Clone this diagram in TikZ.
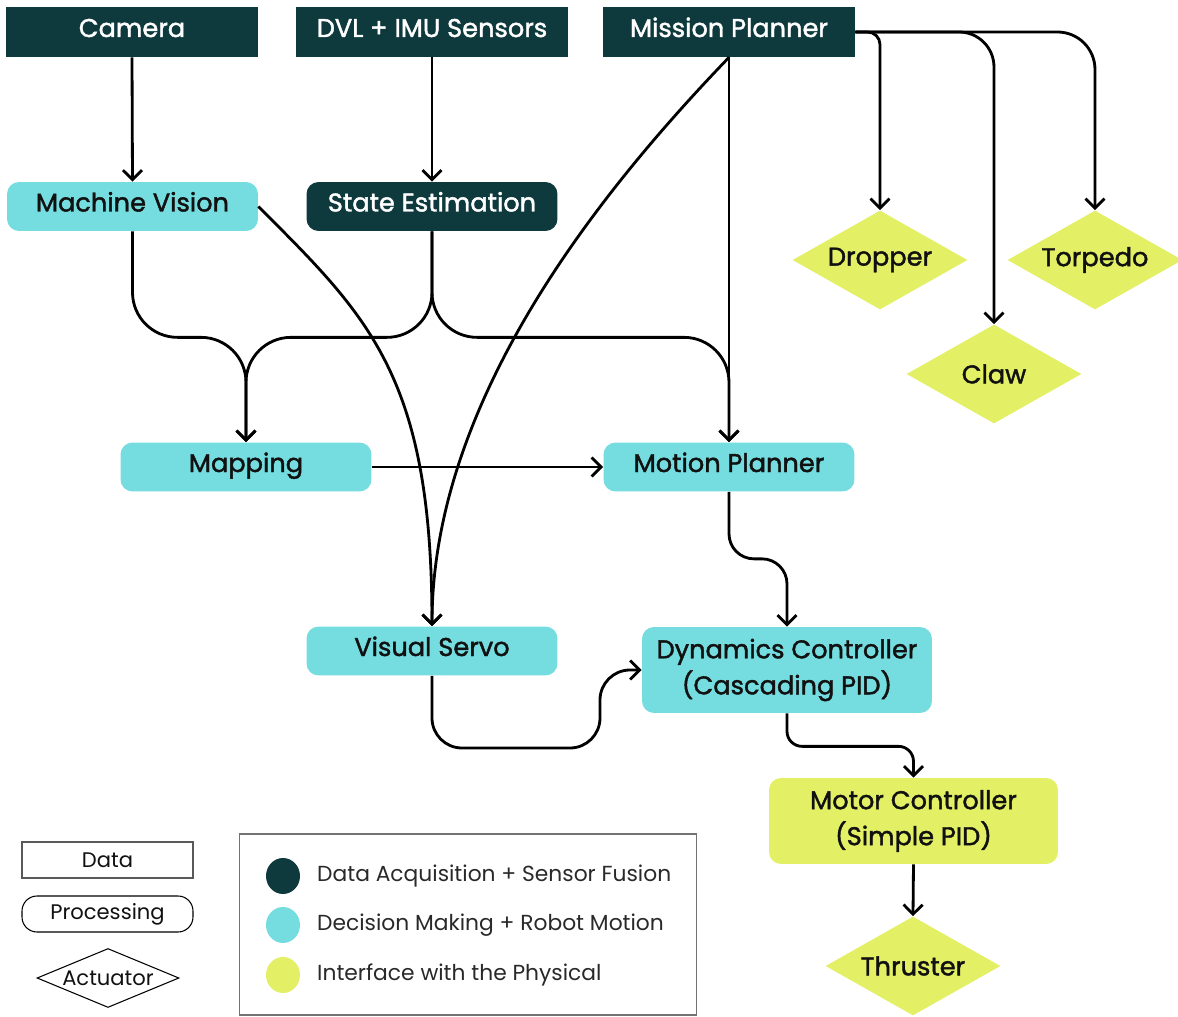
\documentclass[tikz,border=0pt]{standalone}
\usepackage{fontspec}
\setmainfont{Poppins}
\newfontfamily\boxfont[FakeBold=1.6]{Poppins}
\usetikzlibrary{arrows.meta,shapes.geometric}
\definecolor{darkteal}{HTML}{0E393D}
\definecolor{aqua}{HTML}{75DDE0}
\definecolor{lime}{HTML}{E3EF64}
\definecolor{ink}{HTML}{111111}

\begin{document}
\begin{tikzpicture}[x=0.02cm,y=-0.02cm,
  box/.style={rectangle, minimum width=5.02cm, minimum height=0.98cm, inner sep=0pt,
    align=center, font=\boxfont\fontsize{14.6}{20.5}\selectfont},
  oneline/.style={text height=0.4cm, text depth=0.2cm},
  datanode/.style={box, oneline, fill=darkteal, text=white},
  procdark/.style={box, oneline, fill=darkteal, text=white, rounded corners=0.24cm},
  procaqua/.style={box, fill=aqua, text=ink, rounded corners=0.24cm},
  proclime/.style={box, fill=lime, text=ink, rounded corners=0.24cm},
  actnode/.style={diamond, aspect=1.77, fill=lime, text=ink, inner sep=0pt, minimum width=3.5cm,
    minimum height=1.98cm, font=\boxfont\fontsize{14.6}{16}\selectfont},
  link/.style={line width=1.6pt, draw=black, -{Straight Barb[length=1.9mm,width=3.8mm,line width=1.6pt]}},
  legtext/.style={anchor=west, text=ink!90, font=\fontsize{12.4}{14}\selectfont},
  keytext/.style={text=ink, font=\fontsize{12}{14}\selectfont},
]
\useasboundingbox (0,0) rectangle (1178,1017);

% ---- sources (data) ----
\node[datanode, minimum width=5.04cm, minimum height=1cm] (cam) at (132,32) {Camera};
\node[datanode, minimum width=5.44cm, minimum height=1cm] (dvl) at (432,32) {DVL + IMU Sensors};
\node[datanode, minimum width=5.04cm, minimum height=1cm] (mp) at (729,32) {Mission Planner};

% ---- processing ----
\node[procaqua, oneline] (mv) at (132.5,206.5) {Machine Vision};
\node[procdark] (se) at (432,206.5) {State Estimation};
\node[procaqua, oneline] (map) at (246,467) {Mapping};
\node[procaqua, oneline] (mop) at (729,467) {Motion Planner};
\node[procaqua, oneline] (vs) at (432,651) {Visual Servo};
\node[procaqua, minimum width=5.8cm, minimum height=1.72cm] (dc) at (787,670)
  {Dynamics Controller\\(Cascading PID)};
\node[proclime, minimum width=5.78cm, minimum height=1.72cm] (mc) at (913.5,821)
  {Motor Controller\\(Simple PID)};

% ---- actuators ----
\node[actnode] (drop) at (880,260) {Dropper};
\node[actnode] (torp) at (1095,260) {Torpedo};
\node[actnode] (claw) at (994,374) {Claw};
\node[actnode] (thr) at (913,966) {Thruster};

% ---- connectors ----
\draw[link] (cam.south) -- (mv.north);
\draw[link] (dvl.south) -- (se.north);

\draw[link, rounded corners=0.9cm] (mv.south) -- ++(0,106) -| (map.north);
\draw[link, rounded corners=0.9cm] (se.south) -- ++(0,106) -| (map.north);
\draw[link, rounded corners=0.9cm] (se.south) -- ++(0,106) -| (mop.north);

\draw[link] (mp.south) -- (mop.north);
\draw[link] (mv.east) .. controls +(110,110) and +(0,-250) .. (vs.north);
\draw[link] (mp.south) .. controls +(-128,133) and +(0,-227) .. (vs.north);

\draw[link] (map.east) -- (mop.west);
\draw[link, rounded corners=0.5cm] (mop.south) -- ++(0,67) -| (dc.north);

\coordinate (vsbend) at (600,748);
\draw[link, rounded corners=0.6cm] (vs.south) |- (vsbend) |- (dc.west);

\draw[link, rounded corners=0.3cm] (dc.south) -- ++(0,33) -| (mc.north);
\draw[link] (mc.south) -- (thr.north);

\draw[link, rounded corners=0.25cm] (mp.east) -| (drop.north);
\draw[link, rounded corners=0.7cm] (mp.east) -| (claw.north);
\draw[link, rounded corners=0.75cm] (mp.east) -| (torp.north);

% ---- key: node shapes ----
\node[keytext, draw=black!65, line width=0.6pt, fill=white, minimum width=3.42cm,
  minimum height=0.72cm, inner sep=0pt] (kdata) at (107.5,860) {Data};
\node[keytext, draw=black, line width=0.6pt, fill=white, rounded corners=0.3cm,
  minimum width=3.42cm, minimum height=0.72cm, inner sep=0pt] (kproc) at (107.5,914) {Processing};
\node[diamond, draw=black, line width=0.6pt, fill=white, minimum width=2.84cm,
  minimum height=1.18cm, inner sep=0pt] (kact) at (108,978) {};
\node[keytext] (kacttext) at (108,978) {Actuator};

% ---- key: colours ----
\node[draw=black!55, line width=0.6pt, minimum width=9.16cm, minimum height=3.62cm,
  inner sep=0pt] (key) at (468,924.5) {};
\node[ellipse, fill=darkteal, minimum width=0.68cm, minimum height=0.72cm, inner sep=0pt] (c1) at (283,876) {};
\node[ellipse, fill=aqua, minimum width=0.68cm, minimum height=0.72cm, inner sep=0pt] (c2) at (283,925) {};
\node[ellipse, fill=lime, minimum width=0.68cm, minimum height=0.72cm, inner sep=0pt] (c3) at (283,975) {};
\node[legtext] (l1) at (311,876) {Data Acquisition + Sensor Fusion};
\node[legtext] (l2) at (311,925) {Decision Making + Robot Motion};
\node[legtext] (l3) at (311,975) {Interface with the Physical};
\end{tikzpicture}
\end{document}
